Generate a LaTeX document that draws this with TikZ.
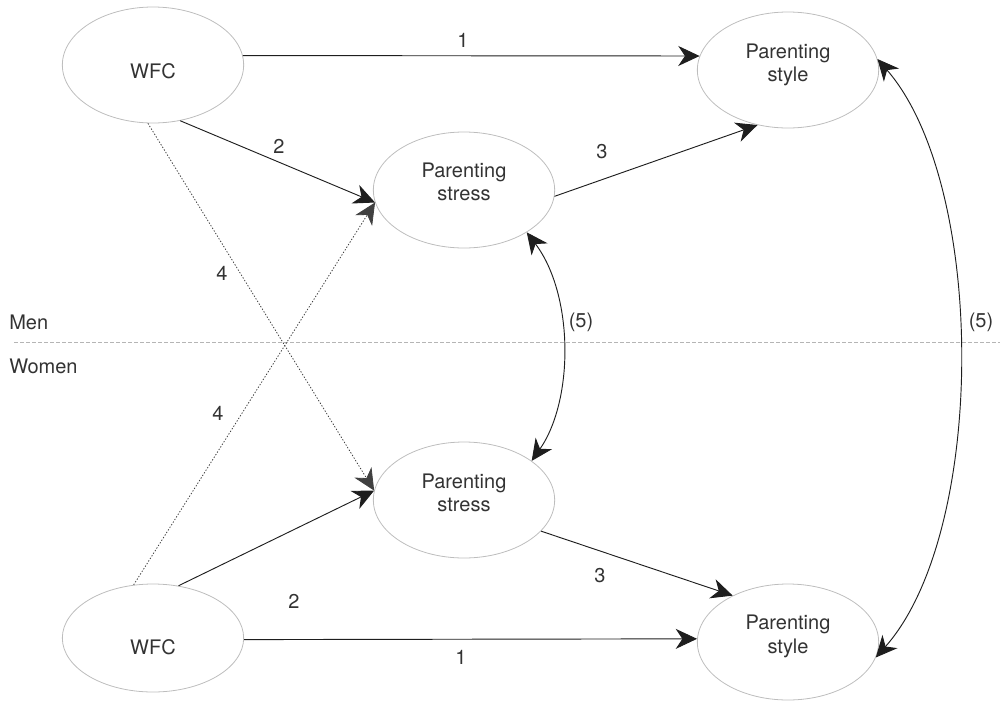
\documentclass[tikz,border=0pt]{standalone}
\usepackage{fontspec}
\setmainfont{TeX Gyre Heros}
\usetikzlibrary{arrows.meta,shapes.geometric}
\definecolor{txt}{HTML}{333333}
\definecolor{rim}{HTML}{BDBDBD}
\definecolor{ink}{HTML}{1E1E1E}
\definecolor{rule}{HTML}{B5B5B5}
\begin{document}
\begin{tikzpicture}[x=0.75pt,y=-0.75pt,
  construct/.style={ellipse, draw=rim, line width=0.6pt, minimum width=136pt,
    minimum height=87pt, inner sep=0pt},
  inside/.style={text=txt, align=center, inner sep=0pt,
    font=\fontsize{15}{17.5}\selectfont},
  lbl/.style={text=txt, inner sep=0pt, font=\fontsize{15}{17.5}\selectfont},
  link/.style={draw=ink, line width=0.7pt,
    -{Stealth[length=16pt,width=15pt,inset=5pt]}},
  cross/.style={draw=ink!85, line width=0.6pt, dash pattern=on 1pt off 1.3pt,
    -{Stealth[length=16pt,width=15pt,inset=5pt]}},
  both/.style={draw=ink, line width=0.7pt,
    {Stealth[length=16pt,width=15pt,inset=5pt]}-{Stealth[length=16pt,width=15pt,inset=5pt]}},
  divider/.style={draw=rule, line width=0.5pt, dash pattern=on 3pt off 1.5pt}]
\useasboundingbox (0,0) rectangle (1000,701);

% group divider
\coordinate (divL) at (14,342);
\coordinate (divR) at (1000,342);
\draw[divider] (divL) -- (divR);
\node[lbl, anchor=west] (men) at (9,322) {Men};
\node[lbl, anchor=west] (women) at (9,366) {Women};

% constructs, men
\node[construct, label={[inside, yshift=-4.9pt]center:WFC}] (wfcM) at (153,65) {};
\node[construct, label={[inside, yshift=3.8pt]center:Parenting\\style}] (styM) at (788,70) {};
\node[construct, label={[inside, yshift=6pt]center:Parenting\\stress}] (strM) at (464,190) {};

% constructs, women
\node[construct, label={[inside, yshift=5.6pt]center:Parenting\\stress}] (strW) at (464,500) {};
\node[construct, minimum height=81pt, label={[inside, yshift=-7.1pt]center:WFC}] (wfcW) at (153,638) {};
\node[construct, label={[inside, yshift=4.1pt]center:Parenting\\style}] (styW) at (788,642) {};

% paths, men
\draw[link] (wfcM.6) -- (styM.171);
\draw[link] (wfcM.-64) -- (strM.188);
\draw[link] (strM.356) -- (styM.241);

% cross-over paths
\draw[cross] (wfcM.-95) -- (strW.174);
\draw[cross] (wfcW.110) -- (strM.188);

% paths, women
\draw[link] (wfcW.64) -- (strW.174);
\draw[link] (strW.-22) -- (styW.140);
\draw[link] (wfcW.359) -- (styW.178);

% covariances between partners
\draw[both] (strM.326) .. controls (574,295) and (574,400) .. (strW.30);
\draw[both] (styM.7) .. controls (987,185) and (987,532) .. (styW.350);

% path labels
\node[lbl] (l1M) at (463,40) {1};
\node[lbl] (l2M) at (279,146) {2};
\node[lbl] (l3M) at (602,152) {3};
\node[lbl] (l4M) at (222,273) {4};
\node[lbl] (l4W) at (218,413) {4};
\node[lbl] (l2W) at (294,601) {2};
\node[lbl] (l3W) at (600,576) {3};
\node[lbl] (l1W) at (461,657) {1};
\node[lbl] (l5a) at (581,322) {(5)};
\node[lbl] (l5b) at (981,322) {(5)};
\end{tikzpicture}
\end{document}
